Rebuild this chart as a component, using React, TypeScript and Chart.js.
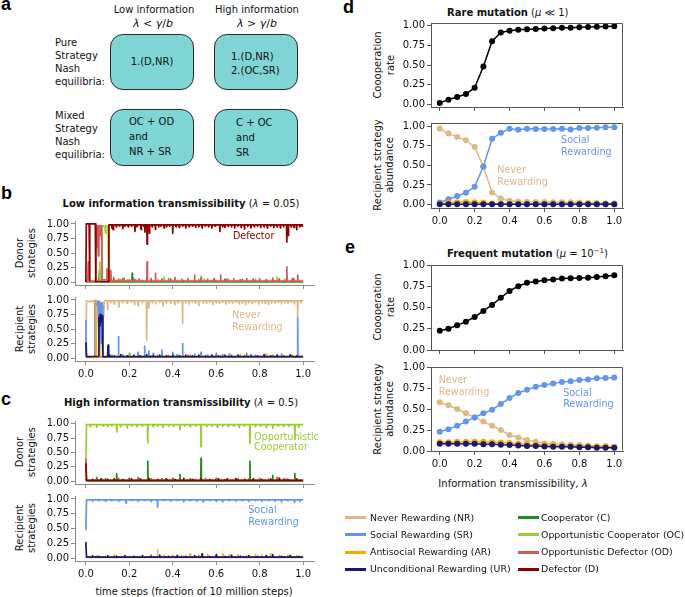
import React, { useEffect, useRef } from "react";
import { Chart, registerables } from "chart.js";
Chart.register(...registerables);

const FONT = "'DejaVu Sans', 'Noto Sans', sans-serif";

// ---------- colours ----------
const C_NR = "#DEB887";
const C_SR = "#6495ED";
const C_AR = "#FFA500";
const C_UR = "#191970";
const C_C = "#228B22";
const C_OC = "#9ACD32";
const C_OD = "#CD5C5C";
const C_D = "#8B0000";

// ---------- ticks ----------
const xTicks = [0, 0.2, 0.4, 0.6, 0.8, 1.0];
const yTicks = [0, 0.25, 0.5, 0.75, 1.0];

// ---------- panels d / e data ----------
const lambdaValues = [0, 0.05, 0.1, 0.15, 0.2, 0.25, 0.3, 0.35, 0.4, 0.45, 0.5, 0.55, 0.6, 0.65, 0.7, 0.75, 0.8, 0.85, 0.9, 0.95, 1.0];
const dCoop = [0.02, 0.063, 0.097, 0.134, 0.214, 0.48, 0.8, 0.91, 0.933, 0.945, 0.95, 0.955, 0.96, 0.965, 0.97, 0.97, 0.975, 0.98, 0.982, 0.985, 0.99];
const dNR = [0.97, 0.905, 0.863, 0.82, 0.735, 0.485, 0.155, 0.077, 0.047, 0.04, 0.035, 0.033, 0.032, 0.03, 0.028, 0.03, 0.025, 0.022, 0.02, 0.018, 0.015];
const dSR = [0.025, 0.068, 0.11, 0.15, 0.227, 0.485, 0.84, 0.915, 0.966, 0.955, 0.966, 0.962, 0.962, 0.962, 0.966, 0.958, 0.975, 0.977, 0.98, 0.985, 0.985];
const dAR = [0.01, 0.025, 0.03, 0.032, 0.03, 0.025, 0.012, 0.008, 0.006, 0.005, 0.005, 0.005, 0.005, 0.004, 0.004, 0.004, 0.004, 0.004, 0.004, 0.004, 0.004];
const dUR = [0.004, 0.004, 0.004, 0.004, 0.004, 0.004, 0.004, 0.004, 0.004, 0.003, 0.003, 0.003, 0.003, 0.003, 0.003, 0.003, 0.003, 0.003, 0.003, 0.003, 0.003];

const eCoop = [0.227, 0.25, 0.29, 0.333, 0.388, 0.46, 0.53, 0.615, 0.695, 0.75, 0.79, 0.805, 0.82, 0.83, 0.84, 0.843, 0.847, 0.85, 0.86, 0.867, 0.88];
const eNR = [0.58, 0.545, 0.5, 0.45, 0.4, 0.35, 0.3, 0.25, 0.19, 0.16, 0.13, 0.11, 0.09, 0.085, 0.08, 0.075, 0.07, 0.065, 0.06, 0.06, 0.05];
const eSR = [0.23, 0.26, 0.3, 0.35, 0.4, 0.45, 0.49, 0.56, 0.63, 0.69, 0.73, 0.765, 0.785, 0.805, 0.82, 0.83, 0.845, 0.85, 0.865, 0.87, 0.875];
const eAR = [0.105, 0.105, 0.11, 0.11, 0.11, 0.11, 0.105, 0.1, 0.095, 0.085, 0.08, 0.075, 0.07, 0.065, 0.06, 0.06, 0.055, 0.05, 0.05, 0.05, 0.045];
const eUR = [0.085, 0.085, 0.085, 0.085, 0.085, 0.08, 0.08, 0.075, 0.07, 0.065, 0.06, 0.06, 0.055, 0.05, 0.05, 0.05, 0.045, 0.045, 0.04, 0.04, 0.04];

// ---------- panel b (lambda = 0.05) time series: head polyline, baseline level, spikes [t, value] ----------
const bD_head = [[0, 0], [0.002, 1], [0.015, 1], [0.017, 0.03], [0.019, 1], [0.044, 1], [0.046, 0.01], [0.104, 0.01], [0.106, 0.985]];
const bD_base = 0.985;
const bD_spikes = [[0.12, 0.93], [0.126, 0.9], [0.14, 0.95], [0.155, 0.96], [0.17, 0.92], [0.18, 0.96], [0.195, 0.95], [0.21, 0.96], [0.226, 0.87], [0.235, 0.95], [0.254, 0.9], [0.265, 0.96], [0.272, 0.86], [0.282, 0.65], [0.292, 0.84], [0.305, 0.95], [0.32, 0.9], [0.335, 0.95], [0.345, 0.96], [0.36, 0.93], [0.372, 0.95], [0.385, 0.96], [0.4, 0.84], [0.415, 0.95], [0.43, 0.94], [0.445, 0.96], [0.46, 0.93], [0.475, 0.95], [0.49, 0.96], [0.505, 0.94], [0.52, 0.95], [0.535, 0.93], [0.55, 0.96], [0.565, 0.95], [0.58, 0.93], [0.595, 0.96], [0.617, 0.87], [0.63, 0.95], [0.64, 0.94], [0.655, 0.96], [0.67, 0.95], [0.685, 0.93], [0.7, 0.96], [0.715, 0.94], [0.73, 0.91], [0.745, 0.96], [0.76, 0.93], [0.775, 0.95], [0.79, 0.96], [0.805, 0.94], [0.82, 0.95], [0.835, 0.93], [0.85, 0.96], [0.865, 0.94], [0.88, 0.95], [0.895, 0.93], [0.91, 0.95], [0.925, 0.69], [0.932, 0.8], [0.945, 0.95], [0.958, 0.94], [0.97, 0.9], [0.985, 0.95], [0.995, 0.96]];

const bOD_head = [[0, 0.02], [0.009, 0.02], [0.011, 0.35], [0.013, 0.015], [0.043, 0.015], [0.045, 0.97], [0.05, 0.6], [0.052, 0.97], [0.058, 0.45], [0.06, 0.97], [0.066, 0.8], [0.068, 0.97], [0.072, 0.97], [0.075, 0.04], [0.095, 0.04], [0.097, 0.23], [0.099, 0.03], [0.106, 0.015]];
const bOD_base = 0.015;
const bOD_spikes = [[0.115, 0.2], [0.128, 0.08], [0.15, 0.05], [0.175, 0.07], [0.2, 0.04], [0.22, 0.06], [0.245, 0.05], [0.282, 0.35], [0.3, 0.06], [0.32, 0.15], [0.35, 0.05], [0.38, 0.06], [0.41, 0.08], [0.44, 0.05], [0.47, 0.06], [0.5, 0.12], [0.53, 0.07], [0.56, 0.05], [0.59, 0.06], [0.62, 0.12], [0.65, 0.05], [0.68, 0.06], [0.71, 0.04], [0.74, 0.06], [0.77, 0.05], [0.8, 0.06], [0.83, 0.04], [0.86, 0.07], [0.89, 0.05], [0.925, 0.26], [0.95, 0.06], [0.975, 0.12]];

const bOC_head = [[0, 0.01], [0.062, 0.01], [0.064, 0.35], [0.066, 0.02], [0.073, 0.02], [0.076, 0.97], [0.088, 0.95], [0.09, 0.84], [0.092, 0.97], [0.102, 0.96], [0.105, 0.01]];
const bOC_base = 0.01;
const bOC_spikes = [[0.12, 0.04], [0.14, 0.03], [0.16, 0.05], [0.19, 0.04], [0.24, 0.03], [0.33, 0.05], [0.36, 0.08], [0.42, 0.03], [0.5, 0.04], [0.53, 0.1], [0.545, 0.05], [0.6, 0.03], [0.66, 0.04], [0.7, 0.03], [0.78, 0.05], [0.83, 0.04], [0.88, 0.08], [0.915, 0.05], [0.96, 0.04], [0.975, 0.09]];

const bC_head = [[0, 0.005], [0.06, 0.005], [0.063, 0.2], [0.066, 0.005]];
const bC_base = 0.005;
const bC_spikes = [[0.13, 0.03], [0.15, 0.04], [0.17, 0.05], [0.213, 0.15], [0.23, 0.04], [0.26, 0.03], [0.3, 0.03], [0.35, 0.04], [0.39, 0.05], [0.45, 0.03], [0.52, 0.04], [0.58, 0.03], [0.64, 0.05], [0.72, 0.04], [0.8, 0.03], [0.86, 0.05], [0.92, 0.04], [0.955, 0.06]];

const bNR_head = [[0, 0.05], [0.003, 0.985], [0.02, 0.97], [0.03, 0.985], [0.04, 0.985], [0.042, 0.02], [0.078, 0.02], [0.08, 0.95], [0.082, 0.7], [0.085, 0.985]];
const bNR_base = 0.985;
const bNR_spikes = [[0.1, 0.83], [0.115, 0.95], [0.13, 0.93], [0.152, 0.88], [0.17, 0.95], [0.19, 0.94], [0.21, 0.96], [0.225, 0.92], [0.24, 0.9], [0.26, 0.95], [0.28, 0.31], [0.29, 0.86], [0.305, 0.95], [0.32, 0.93], [0.34, 0.96], [0.355, 0.9], [0.37, 0.95], [0.39, 0.94], [0.41, 0.92], [0.425, 0.95], [0.445, 0.6], [0.46, 0.95], [0.475, 0.93], [0.49, 0.96], [0.505, 0.94], [0.52, 0.9], [0.54, 0.95], [0.555, 0.94], [0.57, 0.96], [0.585, 0.92], [0.6, 0.95], [0.615, 0.94], [0.63, 0.96], [0.645, 0.93], [0.66, 0.95], [0.675, 0.94], [0.69, 0.96], [0.705, 0.93], [0.72, 0.95], [0.735, 0.92], [0.75, 0.95], [0.765, 0.94], [0.78, 0.96], [0.795, 0.93], [0.81, 0.95], [0.825, 0.94], [0.84, 0.92], [0.855, 0.95], [0.87, 0.94], [0.885, 0.96], [0.9, 0.93], [0.915, 0.95], [0.93, 0.94], [0.945, 0.96], [0.96, 0.93], [0.975, 0.7], [0.99, 0.95]];

const bSR_head = [[0, 0.65], [0.003, 0.015], [0.041, 0.015], [0.043, 0.98], [0.05, 0.9], [0.055, 0.98], [0.06, 0.3], [0.062, 0.98], [0.068, 0.25], [0.07, 0.95], [0.074, 0.25], [0.076, 0.9], [0.078, 0.015]];
const bSR_base = 0.015;
const bSR_spikes = [[0.105, 0.23], [0.12, 0.05], [0.15, 0.37], [0.17, 0.06], [0.2, 0.08], [0.24, 0.1], [0.27, 0.2], [0.29, 0.12], [0.31, 0.08], [0.33, 0.05], [0.35, 0.14], [0.4, 0.1], [0.42, 0.06], [0.445, 0.25], [0.47, 0.05], [0.5, 0.07], [0.53, 0.1], [0.56, 0.05], [0.6, 0.08], [0.63, 0.06], [0.66, 0.07], [0.7, 0.05], [0.74, 0.08], [0.78, 0.05], [0.82, 0.06], [0.86, 0.05], [0.9, 0.07], [0.94, 0.05], [0.975, 0.69]];

const bAR_head = [[0, 0.01], [0.044, 0.01], [0.046, 1.0], [0.048, 0.02], [0.061, 0.02], [0.063, 0.3], [0.065, 0.02]];
const bAR_base = 0.02;
const bAR_spikes = [[0.11, 0.03], [0.15, 0.04], [0.2, 0.05], [0.25, 0.03], [0.3, 0.04], [0.33, 0.03], [0.38, 0.05], [0.43, 0.04], [0.48, 0.05], [0.53, 0.04], [0.58, 0.06], [0.62, 0.04], [0.67, 0.05], [0.71, 0.06], [0.745, 0.05], [0.79, 0.04], [0.83, 0.07], [0.86, 0.05], [0.9, 0.04], [0.95, 0.05]];

const bUR_head = [[0, 0.27], [0.003, 0.025], [0.058, 0.03], [0.06, 0.7], [0.063, 0.55], [0.065, 0.75], [0.067, 0.6], [0.07, 0.74], [0.073, 0.65], [0.076, 0.72], [0.078, 0.025], [0.1, 0.025], [0.102, 0.22], [0.104, 0.025]];
const bUR_base = 0.025;
const bUR_spikes = [[0.11, 0.05], [0.13, 0.04], [0.16, 0.06], [0.19, 0.04], [0.22, 0.05], [0.25, 0.04], [0.28, 0.06], [0.31, 0.04], [0.34, 0.05], [0.37, 0.04], [0.4, 0.05], [0.43, 0.04], [0.46, 0.05], [0.49, 0.04], [0.52, 0.05], [0.55, 0.04], [0.58, 0.05], [0.61, 0.04], [0.64, 0.05], [0.67, 0.04], [0.7, 0.05], [0.73, 0.04], [0.76, 0.05], [0.79, 0.04], [0.82, 0.05], [0.85, 0.04], [0.88, 0.05], [0.91, 0.04], [0.94, 0.05], [0.97, 0.04]];

// ---------- panel c (lambda = 0.5) time series ----------
const cOC_head = [[0, 0.25], [0.003, 0.985]];
const cOC_base = 0.985;
const cOC_spikes = [[0.02, 0.95], [0.05, 0.94], [0.08, 0.96], [0.1, 0.95], [0.12, 0.96], [0.142, 0.86], [0.16, 0.95], [0.19, 0.93], [0.21, 0.96], [0.235, 0.95], [0.26, 0.96], [0.285, 0.67], [0.31, 0.95], [0.33, 0.96], [0.355, 0.94], [0.38, 0.96], [0.405, 0.95], [0.433, 0.9], [0.455, 0.96], [0.48, 0.95], [0.505, 0.96], [0.53, 0.6], [0.555, 0.95], [0.58, 0.96], [0.605, 0.94], [0.63, 0.96], [0.655, 0.95], [0.68, 0.96], [0.705, 0.94], [0.73, 0.96], [0.755, 0.66], [0.78, 0.95], [0.805, 0.96], [0.83, 0.94], [0.86, 0.92], [0.885, 0.96], [0.91, 0.95], [0.935, 0.96], [0.962, 0.73], [0.98, 0.94]];

const cC_head = [[0, 0.05], [0.003, 0.005]];
const cC_base = 0.005;
const cC_spikes = [[0.05, 0.06], [0.09, 0.04], [0.142, 0.13], [0.2, 0.05], [0.25, 0.04], [0.285, 0.35], [0.35, 0.04], [0.4, 0.05], [0.433, 0.12], [0.48, 0.04], [0.53, 0.4], [0.6, 0.05], [0.65, 0.04], [0.69, 0.05], [0.755, 0.35], [0.8, 0.04], [0.86, 0.1], [0.91, 0.04], [0.962, 0.13]];

const cD_head = [[0, 0.31], [0.003, 0.015]];
const cD_base = 0.015;
const cD_spikes = [[0.03, 0.03], [0.07, 0.04], [0.1, 0.03], [0.13, 0.04], [0.17, 0.03], [0.21, 0.04], [0.25, 0.03], [0.29, 0.05], [0.33, 0.03], [0.37, 0.04], [0.41, 0.03], [0.45, 0.05], [0.49, 0.03], [0.53, 0.04], [0.57, 0.03], [0.61, 0.04], [0.65, 0.03], [0.69, 0.04], [0.73, 0.03], [0.77, 0.04], [0.81, 0.03], [0.85, 0.04], [0.89, 0.05], [0.93, 0.03], [0.97, 0.04]];

const cOD_head = [[0, 0.4], [0.003, 0.015]];
const cOD_base = 0.015;
const cOD_spikes = [[0.05, 0.04], [0.1, 0.03], [0.15, 0.05], [0.2, 0.04], [0.24, 0.06], [0.3, 0.04], [0.35, 0.03], [0.4, 0.05], [0.45, 0.04], [0.5, 0.03], [0.55, 0.05], [0.6, 0.04], [0.64, 0.03], [0.7, 0.05], [0.75, 0.04], [0.8, 0.05], [0.84, 0.03], [0.88, 0.06], [0.92, 0.04], [0.96, 0.03]];

const cSR_head = [[0, 0.47], [0.003, 0.985]];
const cSR_base = 0.985;
const cSR_spikes = [[0.03, 0.96], [0.06, 0.97], [0.09, 0.96], [0.12, 0.97], [0.15, 0.96], [0.185, 0.93], [0.21, 0.97], [0.24, 0.96], [0.27, 0.97], [0.3, 0.96], [0.33, 0.86], [0.36, 0.97], [0.39, 0.96], [0.42, 0.97], [0.45, 0.95], [0.48, 0.97], [0.51, 0.96], [0.54, 0.95], [0.57, 0.97], [0.6, 0.96], [0.63, 0.95], [0.66, 0.97], [0.69, 0.96], [0.72, 0.97], [0.75, 0.96], [0.78, 0.97], [0.81, 0.96], [0.84, 0.97], [0.87, 0.96], [0.9, 0.95], [0.93, 0.97], [0.96, 0.94], [0.985, 0.96]];

const cUR_head = [[0, 0.27], [0.003, 0.015]];
const cUR_base = 0.015;
const cUR_spikes = [[0.03, 0.04], [0.06, 0.03], [0.1, 0.04], [0.14, 0.03], [0.18, 0.04], [0.22, 0.03], [0.26, 0.04], [0.3, 0.03], [0.34, 0.05], [0.38, 0.03], [0.42, 0.04], [0.46, 0.03], [0.5, 0.04], [0.535, 0.07], [0.57, 0.03], [0.6, 0.06], [0.64, 0.03], [0.67, 0.05], [0.71, 0.03], [0.75, 0.04], [0.79, 0.03], [0.83, 0.04], [0.86, 0.06], [0.9, 0.03], [0.94, 0.04], [0.98, 0.03]];

const cAR_head = [[0, 0.02]];
const cAR_base = 0.02;
const cAR_spikes = [[0.05, 0.04], [0.09, 0.03], [0.13, 0.05], [0.18, 0.04], [0.22, 0.03], [0.26, 0.04], [0.3, 0.05], [0.36, 0.04], [0.4, 0.05], [0.44, 0.04], [0.48, 0.07], [0.52, 0.05], [0.56, 0.06], [0.6, 0.04], [0.63, 0.07], [0.66, 0.05], [0.7, 0.06], [0.74, 0.04], [0.78, 0.06], [0.81, 0.05], [0.85, 0.07], [0.89, 0.04], [0.93, 0.05], [0.97, 0.04]];

const cNR_head = [[0, 0.02], [0.003, 0.01]];
const cNR_base = 0.01;
const cNR_spikes = [[0.1, 0.03], [0.2, 0.02], [0.33, 0.14], [0.45, 0.03], [0.6, 0.02], [0.75, 0.03], [0.9, 0.02]];

// ---------- in-plot labels ----------
type Note = { t: number; v: number; text: string; color: string };
const bTopNotes: Note[] = [{ t: 0.677, v: 0.78, text: "Defector", color: C_D }];
const bBottomNotes: Note[] = [
  { t: 0.673, v: 0.74, text: "Never", color: C_NR },
  { t: 0.673, v: 0.53, text: "Rewarding", color: C_NR },
];
const cTopNotes: Note[] = [
  { t: 0.774, v: 0.77, text: "Opportunistic", color: C_OC },
  { t: 0.774, v: 0.58, text: "Cooperator", color: C_OC },
];
const cBottomNotes: Note[] = [
  { t: 0.747, v: 0.81, text: "Social", color: C_SR },
  { t: 0.747, v: 0.61, text: "Rewarding", color: C_SR },
];
const dBottomNotes: Note[] = [
  { t: 0.695, v: 0.815, text: "Social", color: C_SR },
  { t: 0.695, v: 0.66, text: "Rewarding", color: C_SR },
  { t: 0.33, v: 0.43, text: "Never", color: C_NR },
  { t: 0.33, v: 0.275, text: "Rewarding", color: C_NR },
];
const eBottomNotes: Note[] = [
  { t: -0.006, v: 0.845, text: "Never", color: C_NR },
  { t: -0.006, v: 0.7, text: "Rewarding", color: C_NR },
  { t: 0.707, v: 0.69, text: "Social", color: C_SR },
  { t: 0.707, v: 0.55, text: "Rewarding", color: C_SR },
];

// ---------- legend ----------
const legendLeft = [
  ["Never Rewarding (NR)", C_NR],
  ["Social Rewarding (SR)", C_SR],
  ["Antisocial Rewarding (AR)", C_AR],
  ["Unconditional Rewarding (UR)", C_UR],
];
const legendRight = [
  ["Cooperator (C)", C_C],
  ["Opportunistic Cooperator (OC)", C_OC],
  ["Opportunistic Defector (OD)", C_OD],
  ["Defector (D)", C_D],
];

// ---------- helpers ----------
function trace(head: number[][], base: number, spikes: number[][]) {
  const pts = head.map(([x, y]) => ({ x, y }));
  for (const [t, v] of spikes) {
    pts.push({ x: t - 0.0015, y: base }, { x: t, y: v }, { x: t + 0.0015, y: base });
  }
  pts.push({ x: 1, y: base });
  return pts;
}

function tsSet(data: any[], color: string) {
  return {
    data,
    borderColor: color,
    backgroundColor: color,
    borderWidth: 1.7,
    pointRadius: 0,
    pointHoverRadius: 0,
    tension: 0,
    fill: false,
    borderJoinStyle: "round",
  };
}

function ptSet(ys: number[], color: string) {
  return {
    data: lambdaValues.map((x, i) => ({ x, y: ys[i] })),
    borderColor: color,
    backgroundColor: color,
    borderWidth: 1.5,
    pointRadius: 3,
    pointBorderWidth: 0,
    pointHoverRadius: 0,
    tension: 0,
    fill: false,
  };
}

const YW = 46;
const PT = 10;
const PR = 14;
const XH = 22;

type Spec = {
  L: number; T: number; R: number; B: number;
  ymin: number; ymax: number;
  xLabels: boolean;
  frame: boolean;
  axisColor: string;
  datasets: any[];
  notes: Note[];
};

function ChartPanel({ spec }: { spec: Spec }) {
  const ref = useRef<HTMLCanvasElement | null>(null);
  const w = spec.R - spec.L + YW + PR;
  const h = spec.B - spec.T + PT + XH;
  useEffect(() => {
    if (!ref.current) return;
    const notesPlugin = {
      id: "notes",
      afterDatasetsDraw(chart: any) {
        const { ctx, scales } = chart;
        ctx.save();
        ctx.font = `9.6px ${FONT}`;
        ctx.textBaseline = "middle";
        ctx.textAlign = "left";
        for (const n of spec.notes) {
          ctx.fillStyle = n.color;
          ctx.fillText(n.text, scales.x.getPixelForValue(n.t), scales.y.getPixelForValue(n.v));
        }
        ctx.restore();
      },
    };
    const framePlugin = {
      id: "frame",
      afterDraw(chart: any) {
        if (!spec.frame) return;
        const { ctx, chartArea: a } = chart;
        ctx.save();
        ctx.strokeStyle = spec.axisColor;
        ctx.lineWidth = 1;
        ctx.beginPath();
        const l = Math.round(a.left) + 0.5, r = Math.round(a.right) - 0.5;
        const t = Math.round(a.top) + 0.5, b = Math.round(a.bottom) - 0.5;
        ctx.moveTo(l, t); ctx.lineTo(r, t); ctx.lineTo(r, b);
        ctx.stroke();
        ctx.restore();
      },
    };
    const tickFont = { family: FONT, size: 10 };
    const chart = new Chart(ref.current, {
      type: "line",
      data: { datasets: spec.datasets },
      options: {
        animation: false,
        responsive: false,
        devicePixelRatio: 1,
        events: [],
        layout: { padding: { top: PT, right: PR, left: 0, bottom: 0 } },
        plugins: { legend: { display: false }, tooltip: { enabled: false }, title: { display: false } },
        scales: {
          x: {
            type: "linear",
            min: -0.05,
            max: 1.05,
            afterBuildTicks: (s: any) => { s.ticks = xTicks.map((v) => ({ value: v })); },
            afterFit: (s: any) => { s.height = XH; },
            grid: { drawOnChartArea: false, drawTicks: true, tickLength: 4, tickColor: spec.axisColor, tickWidth: 1 },
            border: { display: true, color: spec.axisColor, width: 1 },
            ticks: {
              color: spec.xLabels ? "#111" : "rgba(0,0,0,0)",
              font: tickFont,
              padding: 3,
              maxRotation: 0,
              autoSkip: false,
              callback: (v: any) => Number(v).toFixed(1),
            },
          },
          y: {
            type: "linear",
            min: spec.ymin,
            max: spec.ymax,
            afterBuildTicks: (s: any) => { s.ticks = yTicks.map((v) => ({ value: v })); },
            afterFit: (s: any) => { s.width = YW; },
            grid: { drawOnChartArea: false, drawTicks: true, tickLength: 4, tickColor: spec.axisColor, tickWidth: 1 },
            border: { display: true, color: spec.axisColor, width: 1 },
            ticks: {
              color: "#111",
              font: tickFont,
              padding: 2,
              autoSkip: false,
              callback: (v: any) => Number(v).toFixed(2),
            },
          },
        },
      } as any,
      plugins: [notesPlugin, framePlugin],
    } as any);
    return () => chart.destroy();
  }, []);
  return (
    <canvas
      ref={ref}
      width={w}
      height={h}
      style={{ position: "absolute", left: spec.L - YW, top: spec.T - PT, width: w, height: h }}
    />
  );
}

type TxtProps = { x: number; y: number; align?: "left" | "center" | "right"; size?: number; bold?: boolean; children: any; style?: any };
function Txt({ x, y, align = "left", size = 10, bold = false, children, style }: TxtProps) {
  const tx = align === "center" ? "-50%" : align === "right" ? "-100%" : "0";
  return (
    <div
      style={{
        position: "absolute",
        left: x,
        top: y,
        transform: `translate(${tx}, -50%)`,
        whiteSpace: "nowrap",
        fontFamily: FONT,
        fontSize: size,
        fontWeight: bold ? "bold" : "normal",
        lineHeight: 1,
        color: "#111",
        ...style,
      }}
    >
      {children}
    </div>
  );
}

function VLabel({ x, y, lines, lh }: { x: number; y: number; lines: string[]; lh: number }) {
  return (
    <div
      style={{
        position: "absolute",
        left: x,
        top: y,
        transform: "translate(-50%, -50%) rotate(-90deg)",
        whiteSpace: "nowrap",
        textAlign: "center",
        fontFamily: FONT,
        fontSize: 10,
        lineHeight: `${lh}px`,
        color: "#111",
      }}
    >
      {lines.map((l, i) => (
        <div key={i}>{l}</div>
      ))}
    </div>
  );
}

function Letter({ x, y, ch }: { x: number; y: number; ch: string }) {
  return (
    <div style={{ position: "absolute", left: x, top: y, fontFamily: "'Liberation Sans', Arial, sans-serif", fontWeight: "bold", fontSize: 18, lineHeight: "18px", color: "#000" }}>
      {ch}
    </div>
  );
}

const BOX_COLOR = "#7fd6d5";
function Box({ x, y, w, h }: { x: number; y: number; w: number; h: number }) {
  return (
    <div style={{ position: "absolute", left: x, top: y, width: w, height: h, background: BOX_COLOR, border: "1px solid #2b2b2b", borderRadius: 13, boxSizing: "border-box" }} />
  );
}

const it = (s: string) => <span style={{ fontStyle: "italic" }}>{s}</span>;

export default function App() {
  const BC = "#8a8a8a";
  const DC = "#555555";
  const bx = { L: 75, R: 314 };
  const dx = { L: 431, R: 623 };

  const specs: Spec[] = [
    {
      ...bx, T: 221, B: 285, ymin: -0.05, ymax: 1.05, xLabels: false, frame: false, axisColor: BC,
      datasets: [
        tsSet(trace(bD_head, bD_base, bD_spikes), C_D),
        tsSet(trace(bOD_head, bOD_base, bOD_spikes), C_OD),
        tsSet(trace(bOC_head, bOC_base, bOC_spikes), C_OC),
        tsSet(trace(bC_head, bC_base, bC_spikes), C_C),
      ],
      notes: bTopNotes,
    },
    {
      ...bx, T: 297, B: 361, ymin: -0.05, ymax: 1.05, xLabels: true, frame: false, axisColor: BC,
      datasets: [
        tsSet(trace(bUR_head, bUR_base, bUR_spikes), C_UR),
        tsSet(trace(bAR_head, bAR_base, bAR_spikes), C_AR),
        tsSet(trace(bSR_head, bSR_base, bSR_spikes), C_SR),
        tsSet(trace(bNR_head, bNR_base, bNR_spikes), C_NR),
      ],
      notes: bBottomNotes,
    },
    {
      ...bx, T: 421, B: 484, ymin: -0.05, ymax: 1.05, xLabels: false, frame: false, axisColor: BC,
      datasets: [
        tsSet(trace(cD_head, cD_base, cD_spikes), C_D),
        tsSet(trace(cOD_head, cOD_base, cOD_spikes), C_OD),
        tsSet(trace(cOC_head, cOC_base, cOC_spikes), C_OC),
        tsSet(trace(cC_head, cC_base, cC_spikes), C_C),
      ],
      notes: cTopNotes,
    },
    {
      ...bx, T: 496, B: 561, ymin: -0.05, ymax: 1.05, xLabels: true, frame: false, axisColor: BC,
      datasets: [
        tsSet(trace(cUR_head, cUR_base, cUR_spikes), C_UR),
        tsSet(trace(cAR_head, cAR_base, cAR_spikes), C_AR),
        tsSet(trace(cSR_head, cSR_base, cSR_spikes), C_SR),
        tsSet(trace(cNR_head, cNR_base, cNR_spikes), C_NR),
      ],
      notes: cBottomNotes,
    },
    {
      ...dx, T: 23, B: 107, ymin: -0.03, ymax: 1.03, xLabels: false, frame: true, axisColor: DC,
      datasets: [ptSet(dCoop, "#000000")],
      notes: [],
    },
    {
      ...dx, T: 123, B: 208, ymin: -0.044, ymax: 1.04, xLabels: true, frame: true, axisColor: DC,
      datasets: [ptSet(dUR, C_UR), ptSet(dAR, C_AR), ptSet(dSR, C_SR), ptSet(dNR, C_NR)],
      notes: dBottomNotes,
    },
    {
      ...dx, T: 265, B: 350, ymin: 0, ymax: 1, xLabels: false, frame: true, axisColor: DC,
      datasets: [ptSet(eCoop, "#000000")],
      notes: [],
    },
    {
      ...dx, T: 367, B: 451, ymin: 0, ymax: 1, xLabels: true, frame: true, axisColor: DC,
      datasets: [ptSet(eUR, C_UR), ptSet(eAR, C_AR), ptSet(eSR, C_SR), ptSet(eNR, C_NR)],
      notes: eBottomNotes,
    },
  ];

  return (
    <div style={{ position: "absolute", left: 0, top: 0, width: 685, height: 597, background: "#fff", overflow: "hidden" }}>
      {/* panel letters */}
      <Letter x={1} y={-5} ch="a" />
      <Letter x={1} y={184} ch="b" />
      <Letter x={1} y={390} ch="c" />
      <Letter x={343} y={-2} ch="d" />
      <Letter x={345} y={238} ch="e" />

      {/* panel a */}
      <Txt x={154} y={10} align="center">Low information</Txt>
      <Txt x={153} y={23} align="center" size={11}>{it("λ")} &lt; {it("γ")}/{it("b")}</Txt>
      <Txt x={257} y={10} align="center">High information</Txt>
      <Txt x={257} y={23} align="center" size={11}>{it("λ")} &gt; {it("γ")}/{it("b")}</Txt>
      <Txt x={55} y={43}>Pure</Txt>
      <Txt x={55} y={56}>Strategy</Txt>
      <Txt x={55} y={69}>Nash</Txt>
      <Txt x={55} y={82}>equilibria:</Txt>
      <Txt x={55} y={116}>Mixed</Txt>
      <Txt x={55} y={129}>Strategy</Txt>
      <Txt x={55} y={142}>Nash</Txt>
      <Txt x={55} y={155}>equilibria:</Txt>
      <Box x={110} y={34} w={84} h={56} />
      <Box x={214} y={34} w={84} h={56} />
      <Box x={110} y={109} w={84} h={57} />
      <Box x={214} y={109} w={84} h={57} />
      <Txt x={152} y={62} align="center">1.(D,NR)</Txt>
      <Txt x={231} y={57}>1.(D,NR)</Txt>
      <Txt x={231} y={71}>2.(OC,SR)</Txt>
      <Txt x={129} y={122}>OC + OD</Txt>
      <Txt x={129} y={137}>and</Txt>
      <Txt x={129} y={152}>NR + SR</Txt>
      <Txt x={236} y={123}>C + OC</Txt>
      <Txt x={236} y={138}>and</Txt>
      <Txt x={236} y={153}>SR</Txt>

      {/* titles */}
      <Txt x={181} y={204} align="center"><b>Low information transmissibility</b> ({it("λ")} = 0.05)</Txt>
      <Txt x={181} y={403} align="center"><b>High information transmissibility</b> ({it("λ")} = 0.5)</Txt>
      <Txt x={447} y={13}><b>Rare mutation</b> ({it("μ")} ≪ 1)</Txt>
      <Txt x={447} y={254}><b>Frequent mutation</b> ({it("μ")} = 10<sup style={{ fontSize: 7, verticalAlign: "4px", lineHeight: 0 }}>−1</sup>)</Txt>

      {/* y labels */}
      <VLabel x={26} y={253} lines={["Donor", "strategies"]} lh={12} />
      <VLabel x={26} y={329} lines={["Recipient", "strategies"]} lh={12} />
      <VLabel x={26} y={452} lines={["Donor", "strategies"]} lh={12} />
      <VLabel x={26} y={528} lines={["Recipient", "strategies"]} lh={12} />
      <VLabel x={384} y={65} lines={["Coooperation", "rate"]} lh={13} />
      <VLabel x={384} y={165} lines={["Recipient strategy", "abundance"]} lh={12} />
      <VLabel x={384} y={307} lines={["Coooperation", "rate"]} lh={13} />
      <VLabel x={384} y={409} lines={["Recipient strategy", "abundance"]} lh={12} />

      {/* x labels */}
      <Txt x={194} y={592} align="center">time steps (fraction of 10 million steps)</Txt>
      <Txt x={513} y={484} align="center">Information transmissibility, {it("λ")}</Txt>

      {/* charts */}
      {specs.map((s, i) => (
        <ChartPanel key={i} spec={s} />
      ))}

      {/* legend */}
      {legendLeft.map(([label, color], i) => (
        <React.Fragment key={"l" + i}>
          <div style={{ position: "absolute", left: 345, top: 516 + i * 17.3, width: 21, height: 3, background: color }} />
          <Txt x={370} y={517.5 + i * 17.3} size={9.4}>{label}</Txt>
        </React.Fragment>
      ))}
      {legendRight.map(([label, color], i) => (
        <React.Fragment key={"r" + i}>
          <div style={{ position: "absolute", left: 518, top: 516 + i * 17.3, width: 21, height: 3, background: color }} />
          <Txt x={541} y={517.5 + i * 17.3} size={9.4}>{label}</Txt>
        </React.Fragment>
      ))}
    </div>
  );
}
